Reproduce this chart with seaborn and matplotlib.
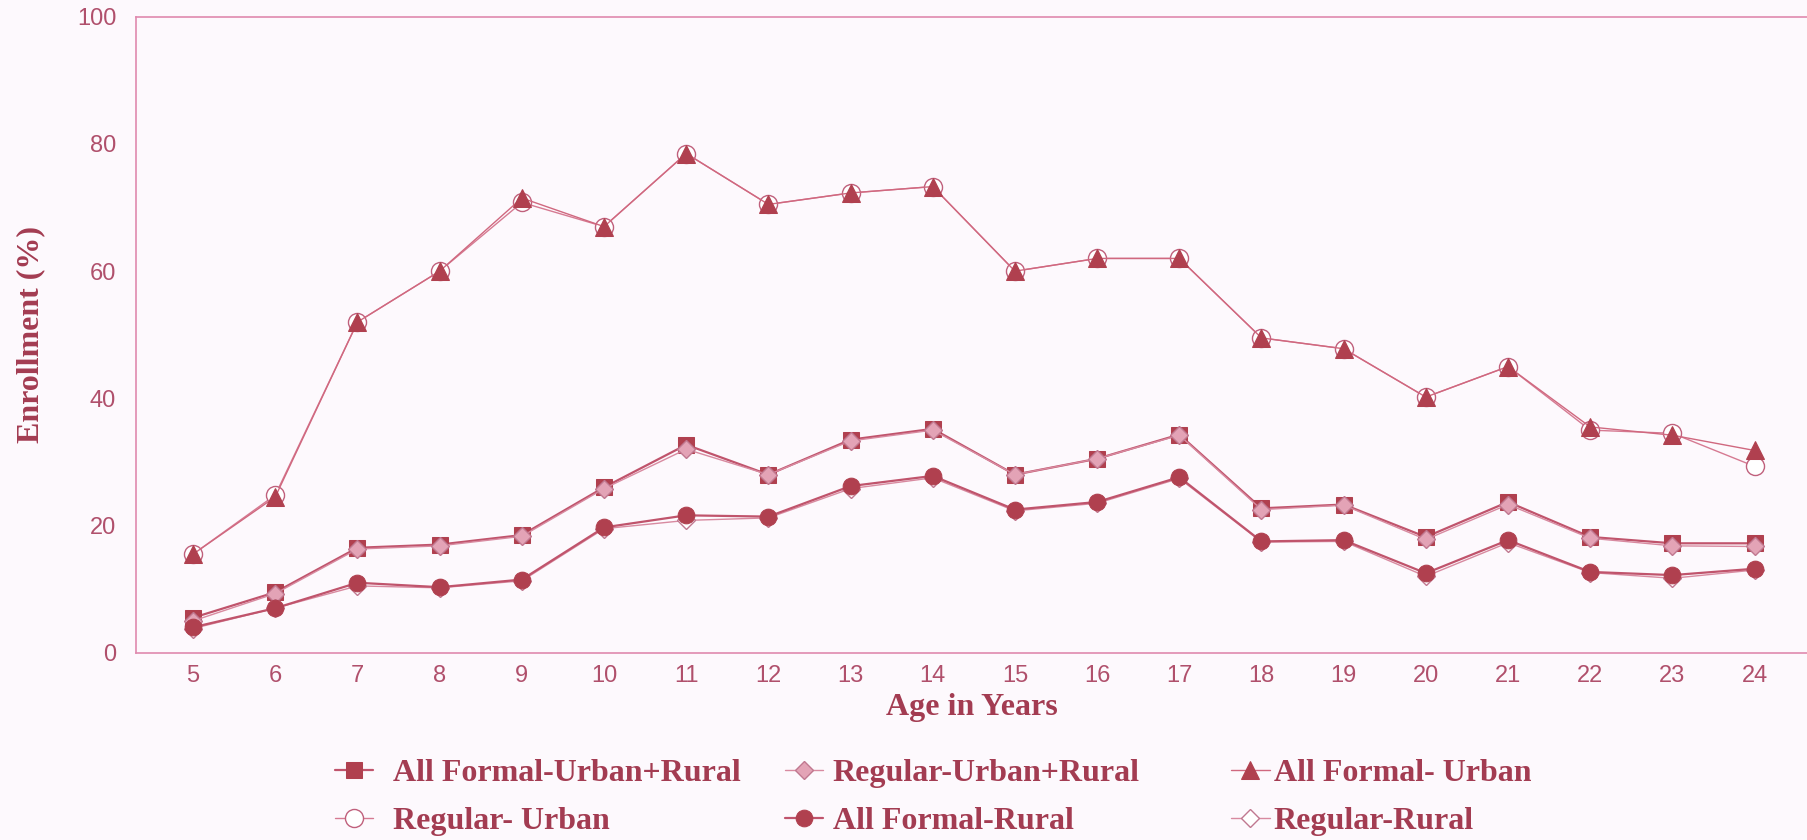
import matplotlib
matplotlib.use("Agg")
import matplotlib.pyplot as plt
import seaborn as sns
import pandas as pd

# Data (enrollment %, ages 5-24)
ages = list(range(5, 25))
all_formal_ur = [5.5, 9.5, 16.5, 17.0, 18.5, 26.0, 32.7, 28.0, 33.5, 35.2,
                 28.0, 30.5, 34.3, 22.7, 23.3, 18.2, 23.7, 18.2, 17.2, 17.2]
regular_ur = [5.0, 9.3, 16.3, 16.8, 18.3, 25.8, 32.0, 28.0, 33.3, 35.0,
              28.0, 30.5, 34.2, 22.5, 23.2, 17.8, 23.3, 18.0, 16.8, 16.7]
all_formal_urban = [15.5, 24.5, 52.0, 60.0, 71.5, 67.0, 78.5, 70.5, 72.3, 73.3,
                    60.0, 62.0, 62.0, 49.5, 47.8, 40.2, 45.0, 35.5, 34.2, 31.8]
regular_urban = [15.5, 24.8, 52.0, 60.0, 70.8, 67.0, 78.5, 70.5, 72.3, 73.3,
                 60.0, 62.0, 62.0, 49.5, 47.8, 40.2, 45.0, 35.0, 34.5, 29.3]
all_formal_rural = [4.0, 7.0, 11.0, 10.3, 11.5, 19.7, 21.6, 21.4, 26.2, 27.8,
                    22.5, 23.7, 27.6, 17.5, 17.7, 12.5, 17.7, 12.7, 12.2, 13.2]
regular_rural = [3.8, 7.0, 10.5, 10.2, 11.3, 19.5, 20.8, 21.2, 25.8, 27.5,
                 22.3, 23.5, 27.4, 17.4, 17.5, 12.0, 17.3, 12.6, 11.7, 13.0]

labels = ["All Formal-Urban+Rural", "Regular-Urban+Rural", "All Formal- Urban",
          "Regular- Urban", "All Formal-Rural", "Regular-Rural"]

df = pd.DataFrame({
    "age": ages,
    labels[0]: all_formal_ur,
    labels[1]: regular_ur,
    labels[2]: all_formal_urban,
    labels[3]: regular_urban,
    labels[4]: all_formal_rural,
    labels[5]: regular_rural,
})

dark = "#b0404f"
text_col = "#a33c52"
tick_col = "#b0506c"
axis_col = "#e08aae"
bg = "#fdf9fd"

sns.set_style("white")
plt.rcParams["font.family"] = ["Liberation Sans", "DejaVu Sans"]

fig = plt.figure(figsize=(18.08, 8.4), dpi=100, facecolor=bg)
ax = fig.add_axes([0.075, 0.223, 0.925, 0.757])
ax.set_facecolor(bg)

# line + marker styles per series
styles = {
    labels[3]: dict(color="#d67a92", linewidth=1.0, marker="o", markersize=13,
                    markerfacecolor="white", markeredgecolor="#c0607c", markeredgewidth=1.0),
    labels[2]: dict(color="#d0687f", linewidth=1.0, marker="^", markersize=13,
                    markerfacecolor=dark, markeredgecolor=dark),
    labels[0]: dict(color="#c0546c", linewidth=1.6, marker="s", markersize=12,
                    markerfacecolor=dark, markeredgecolor=dark),
    labels[1]: dict(color="#d88aa0", linewidth=1.0, marker="D", markersize=9,
                    markerfacecolor="#e3a3b6", markeredgecolor="#c07890", markeredgewidth=1.0),
    labels[5]: dict(color="#d88aa0", linewidth=1.0, marker="D", markersize=9,
                    markerfacecolor="white", markeredgecolor="#c07890", markeredgewidth=1.0),
    labels[4]: dict(color="#c0546c", linewidth=1.6, marker="o", markersize=12,
                    markerfacecolor=dark, markeredgecolor=dark),
}

handles = {}
for name in [labels[3], labels[2], labels[0], labels[1], labels[5], labels[4]]:
    sns.lineplot(data=df, x="age", y=name, ax=ax, label=name, **styles[name])
    handles[name] = ax.get_lines()[-1]
ax.get_legend().remove()

ax.set_xlim(4.3, 24.65)
ax.set_ylim(0, 100)
ax.set_xticks(ages)
ax.set_yticks([0, 20, 40, 60, 80, 100])
ax.tick_params(axis="both", direction="in", length=10, color=axis_col,
               labelcolor=tick_col, labelsize=17)
ax.tick_params(axis="x", pad=9)
ax.tick_params(axis="y", pad=14)

for side in ["left", "bottom", "top"]:
    ax.spines[side].set_color(axis_col)
    ax.spines[side].set_linewidth(1.2)
ax.spines["right"].set_visible(False)

ax.set_xlabel("Age in Years", family="Liberation Serif", fontweight="bold",
              fontsize=23, color=text_col)
ax.set_ylabel("Enrollment (%)", family="Liberation Serif", fontweight="bold",
              fontsize=23, color=text_col)
ax.xaxis.set_label_coords(0.5, -0.064)
ax.yaxis.set_label_coords(-0.054, 0.5)

# legend: three columns, two rows each
columns = [(labels[0], labels[3]), (labels[1], labels[4]), (labels[2], labels[5])]
lefts = [0.1853, 0.434, 0.681]
text_pads = [0.6, 0.31, 0.13]
for names, x0, tp in zip(columns, lefts, text_pads):
    leg = fig.legend([handles[n] for n in names], list(names), loc="upper left",
                     bbox_to_anchor=(x0, 0.097), frameon=False, borderaxespad=0,
                     borderpad=0, handlelength=1.2, handletextpad=tp,
                     labelspacing=0.58,
                     prop={"family": "Liberation Serif", "weight": "bold", "size": 23})
    for t in leg.get_texts():
        t.set_color(text_col)

fig.savefig("out.png", dpi=100, facecolor=bg)
